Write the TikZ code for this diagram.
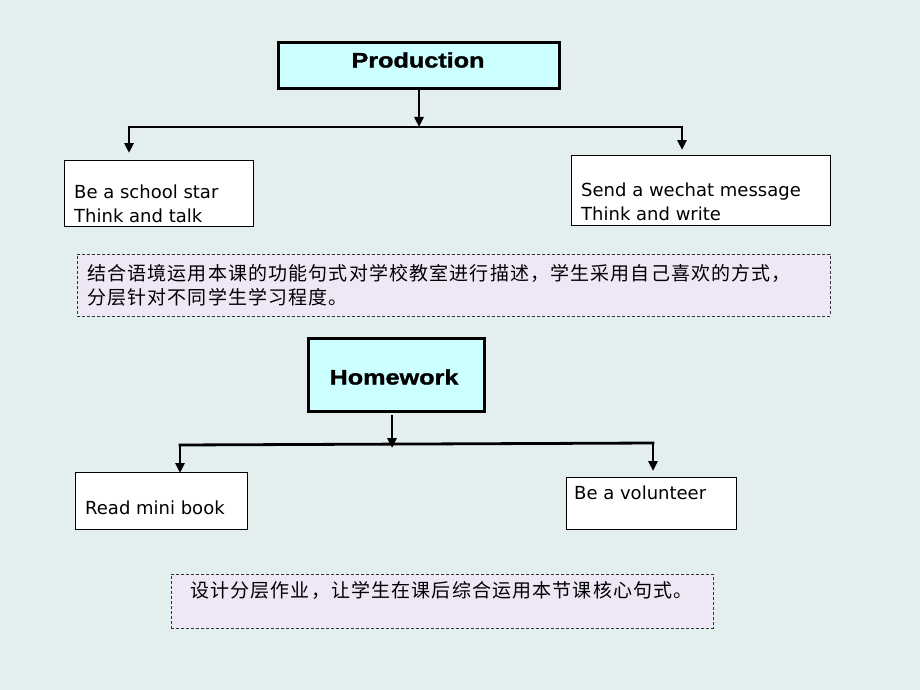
\documentclass[tikz,border=0pt]{standalone}
\usepackage{fontspec}
\setmainfont{DejaVu Sans}
\newfontfamily\cjk[LetterSpace=6]{Noto Sans CJK SC}
\newfontfamily\titlefont[FakeStretch=1.2,FakeBold=1.5]{Liberation Sans Bold}
\usetikzlibrary{arrows.meta}
\definecolor{bgc}{HTML}{E3EFEF}
\definecolor{cyanfill}{HTML}{CCFFFF}
\definecolor{lavfill}{HTML}{EEE8F6}
\tikzset{
  x=1pt, y=-1pt,
  titlebox/.style={draw=black, line width=2.8pt, fill=cyanfill, anchor=north west, inner sep=0pt},
  labelbox/.style={draw=black, line width=1pt, fill=white, anchor=north west, inner sep=0pt},
  notebox/.style={draw=black!80, line width=0.8pt, dash pattern=on 3pt off 2pt, fill=lavfill, anchor=north west, inner sep=0pt},
  titletext/.style={font=\titlefont\fontsize{21}{24}\selectfont},
  labeltext/.style={font=\fontsize{18}{24}\selectfont, anchor=west, align=left, inner sep=0pt},
  notetext/.style={font=\cjk\fontsize{19}{24}\selectfont, anchor=west, align=left, inner sep=0pt},
  conn/.style={line width=2.8pt, -{Triangle[length=10pt,width=9pt]}},
  bar/.style={line width=2.8pt, line cap=butt}
}
\begin{document}
\begin{tikzpicture}
\fill[bgc] (0,0) rectangle (920,690);
\useasboundingbox (0,0) rectangle (920,690);

% Production section
\node[titlebox, minimum width=281pt, minimum height=46pt] (prod) at (277,41) {};
\node[titletext] (prodt) at (418,60) {Production};

\node[labelbox, minimum width=189pt, minimum height=66pt] (school) at (64,160) {};
\node[labeltext] (schoolt) at (74,204) {Be a school star\\Think and talk};

\node[labelbox, minimum width=259pt, minimum height=70pt] (wechat) at (571,155) {};
\node[labeltext] (wechatt) at (581,202) {Send a wechat message\\Think and write};

\node[notebox, minimum width=753pt, minimum height=62pt] (note1) at (77,254) {};
\node[notetext] (note1t) at (87,285) {结合语境运用本课的功能句式对学校教室进行描述，学生采用自己喜欢的方式，\\分层针对不同学生学习程度。};

\coordinate (pM) at (419,127);
\coordinate (pL) at (129,127);
\coordinate (pR) at (682,127);
\coordinate (pLe) at (129,153);
\coordinate (pRe) at (682,150);
\draw[conn] (prod.south -| pM) -- (pM);
\draw[bar] ([xshift=-1.4pt]pL) -- ([xshift=1.4pt]pR);
\draw[conn] (pL) -- (pLe);
\draw[conn] (pR) -- (pRe);

% Homework section
\node[titlebox, minimum width=176pt, minimum height=73pt] (hw) at (307,337) {};
\node[titletext] (hwt) at (394,377) {Homework};

\node[labelbox, minimum width=172pt, minimum height=57pt] (read) at (75,472) {};
\node[labeltext] (readt) at (85,508) {Read mini book};

\node[labelbox, minimum width=170pt, minimum height=52pt] (vol) at (566,477) {};
\node[labeltext] (volt) at (574,493) {Be a volunteer};

\node[notebox, minimum width=542pt, minimum height=54pt] (note2) at (171,574) {};
\node[notetext] (note2t) at (190,590) {设计分层作业，让学生在课后综合运用本节课核心句式。};

\coordinate (hS) at (392,415);
\coordinate (hM) at (392,448);
\coordinate (hL) at (180,445);
\coordinate (hR) at (653,443);
\coordinate (hLe) at (180,473);
\coordinate (hRe) at (653,471);
\draw[conn] (hS) -- (hM);
\draw[bar] ([xshift=-1.4pt]hL) -- ([xshift=1.4pt]hR);
\draw[conn] (hL) -- (hLe);
\draw[conn] (hR) -- (hRe);
\end{tikzpicture}
\end{document}
